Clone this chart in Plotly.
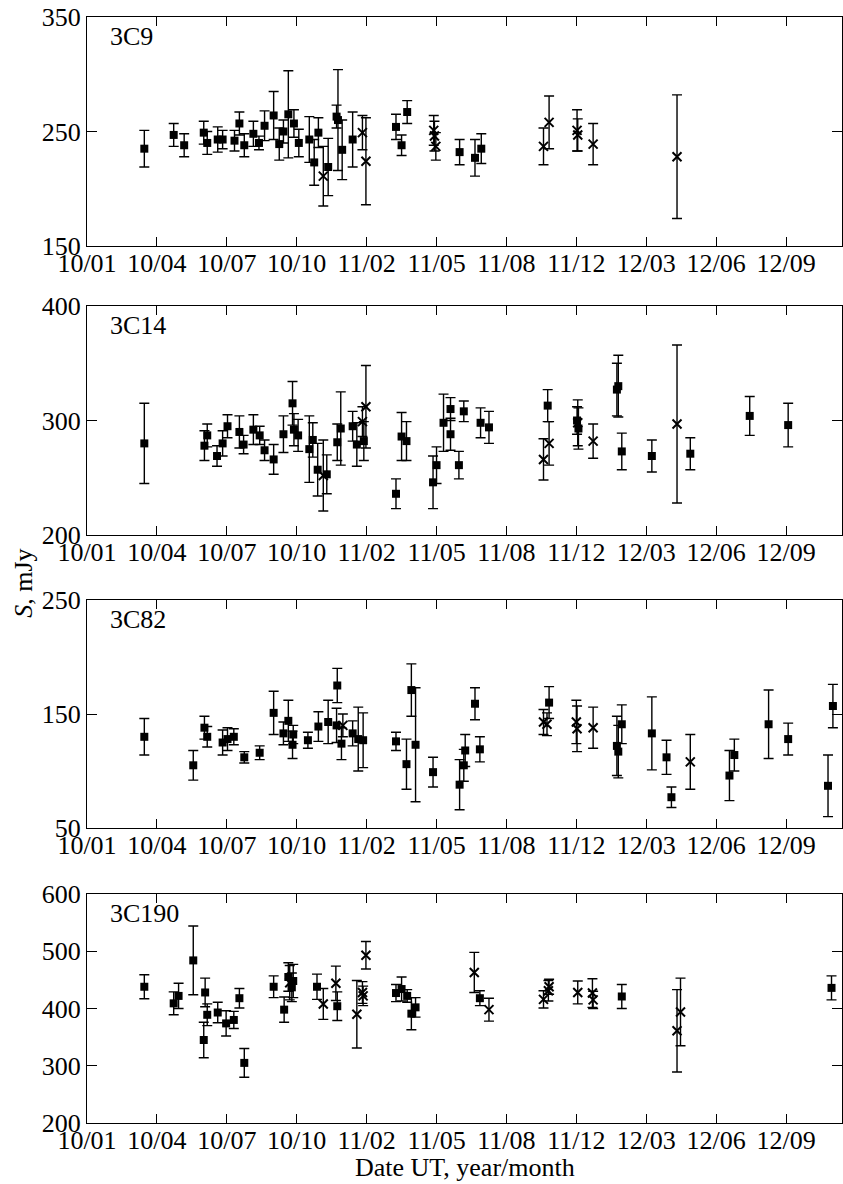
import plotly.graph_objects as go

# x values: days since 2010-01-01 ; ticks every 100 days
tick_days = [0, 100, 200, 300, 400, 500, 600, 700, 800, 900, 1000]
tick_labels = ["10/01", "10/04", "10/07", "10/10", "11/02", "11/05",
               "11/08", "11/12", "12/03", "12/06", "12/09"]

# ---- 3C9 ----
c9_sq_day = [82, 124, 139, 167, 172, 187, 194, 211, 218, 225, 238, 246, 254, 267, 275, 281,
             288, 296, 303, 318, 325, 331, 345, 357, 359, 365, 380, 442, 450, 458, 533, 555, 564]
c9_sq_val = [235, 247, 238, 249, 240, 243, 243, 242, 257, 238, 248, 240, 255, 264, 239, 250,
             265, 257, 240, 243, 223, 249, 219, 263, 260, 234, 243, 254, 238, 267, 232, 227, 235]
c9_sq_err = [16, 10, 10, 10, 10, 11, 8, 9, 10, 10, 11, 6, 13, 21, 14, 10,
             38, 12, 12, 20, 20, 13, 25, 10, 44, 26, 24, 11, 9, 10, 11, 16, 13]
c9_x_day = [338, 394, 399, 496, 497, 499, 653, 661, 701, 702, 724, 844]
c9_x_val = [211, 249, 224, 251, 246, 237, 237, 258, 251, 247, 239, 228]
c9_x_err = [26, 15, 38, 13, 13, 12, 16, 23, 18, 14, 18, 54]

# ---- 3C14 ----
c14_sq_day = [82, 168, 172, 186, 194, 201, 218, 224, 238, 247, 254, 267, 281, 294, 296, 302,
              318, 323, 330, 343, 358, 363, 380, 386, 396, 442, 450, 457, 495, 500, 510, 520,
              520, 532, 539, 563, 575, 659, 701, 703, 758, 760, 765, 808, 863, 948, 1003]
c14_sq_val = [280, 278, 287, 269, 280, 295, 290, 279, 292, 287, 274, 266, 288, 315, 292, 287,
              275, 283, 257, 253, 281, 293, 295, 279, 282, 236, 286, 282, 246, 261, 298, 310,
              288, 261, 308, 298, 294, 313, 300, 293, 327, 330, 273, 269, 271, 304, 296]
c14_sq_err = [35, 13, 10, 9, 11, 10, 14, 8, 13, 8, 9, 13, 16, 19, 14, 14,
              29, 15, 23, 17, 16, 32, 13, 19, 17, 13, 21, 17, 23, 16, 25, 10,
              14, 12, 9, 13, 14, 14, 12, 18, 23, 27, 16, 14, 14, 17, 19]
c14_x_day = [338, 394, 399, 653, 661, 702, 724, 844]
c14_x_val = [252, 299, 312, 266, 280, 298, 282, 297]
c14_x_err = [31, 13, 36, 18, 19, 20, 15, 69]

# ---- 3C82 ----
c82_sq_day = [82, 152, 168, 172, 194, 201, 210, 225, 247, 267, 281, 288, 295, 294, 316, 331,
              345, 358, 357, 364, 380, 388, 395, 442, 457, 464, 470, 495, 533, 539, 541, 555,
              562, 661, 758, 760, 765, 808, 829, 836, 919, 926, 975, 1003, 1060, 1067]
c82_sq_val = [130, 105, 138, 130, 125, 128, 130, 112, 116, 151, 133, 144, 132, 123, 127, 139,
              143, 175, 140, 124, 133, 128, 127, 126, 106, 171, 123, 99, 88, 105, 118, 159,
              119, 160, 122, 117, 141, 133, 112, 77, 96, 114, 141, 128, 87, 157]
c82_sq_err = [16, 13, 10, 9, 11, 10, 7, 5, 6, 19, 10, 18, 8, 12, 7, 13,
              19, 15, 15, 14, 11, 28, 24, 8, 22, 23, 50, 13, 22, 14, 14, 14,
              11, 14, 26, 23, 17, 32, 15, 9, 22, 14, 30, 14, 27, 19]
c82_x_day = [366, 653, 658, 700, 701, 724, 863]
c82_x_val = [140, 143, 141, 143, 137, 138, 108]
c82_x_err = [10, 11, 10, 19, 20, 18, 24]

# ---- 3C190 ----
c190_sq_day = [82, 124, 131, 152, 169, 167, 172, 187, 199, 210, 218, 225, 267, 282, 288, 295,
               293, 329, 358, 442, 450, 458, 464, 470, 562, 765, 1065]
c190_sq_val = [438, 409, 422, 484, 428, 345, 389, 393, 374, 380, 418, 305, 438, 398, 455, 448,
               437, 438, 404, 427, 434, 422, 391, 402, 418, 421, 436]
c190_sq_err = [21, 20, 22, 60, 25, 31, 19, 18, 22, 15, 17, 25, 19, 22, 25, 29,
               25, 22, 25, 15, 21, 11, 28, 17, 13, 21, 21]
c190_x_day = [290, 338, 356, 386, 394, 395, 399, 554, 575, 653, 660, 661, 702, 723, 724, 844, 849]
c190_x_val = [445, 408, 444, 390, 428, 422, 493, 463, 398, 416, 431, 438, 428, 427, 415, 361, 394]
c190_x_err = [30, 27, 30, 59, 19, 17, 24, 35, 20, 15, 18, 13, 20, 25, 15, 72, 59]

panels = [
    ("3C9", c9_sq_day, c9_sq_val, c9_sq_err, c9_x_day, c9_x_val, c9_x_err, [150, 350], [150, 250, 350]),
    ("3C14", c14_sq_day, c14_sq_val, c14_sq_err, c14_x_day, c14_x_val, c14_x_err, [200, 400], [200, 300, 400]),
    ("3C82", c82_sq_day, c82_sq_val, c82_sq_err, c82_x_day, c82_x_val, c82_x_err, [50, 250], [50, 150, 250]),
    ("3C190", c190_sq_day, c190_sq_val, c190_sq_err, c190_x_day, c190_x_val, c190_x_err, [200, 600],
     [200, 300, 400, 500, 600]),
]

H = 1184.0
# pixel top/bottom of each panel
px_bounds = [(17, 246), (306, 535), (600, 828), (894, 1123)]

FONT = "Liberation Serif, Times New Roman, serif"
FS = 26
fig = go.Figure()
layout = dict(
    width=843, height=1184,
    margin=dict(l=87, r=1, t=0, b=0, autoexpand=False),
    paper_bgcolor="white", plot_bgcolor="white",
    showlegend=False,
    font=dict(family=FONT, size=FS, color="black"),
)

annotations = []
for i, (name, sd, sv, se, xd, xv, xe, yr, yt) in enumerate(panels):
    k = "" if i == 0 else str(i + 1)
    xa, ya = "x" + k, "y" + k
    err_style = dict(type="data", visible=True, color="black", thickness=1.4, width=5)
    fig.add_trace(go.Scatter(
        x=sd, y=sv, mode="markers", xaxis=xa, yaxis=ya, cliponaxis=True,
        marker=dict(symbol="square", size=8, color="black"),
        error_y=dict(array=se, **err_style)))
    fig.add_trace(go.Scatter(
        x=xd, y=xv, mode="markers", xaxis=xa, yaxis=ya, cliponaxis=True,
        marker=dict(symbol="x-thin", size=9, color="black",
                    line=dict(color="black", width=2)),
        error_y=dict(array=xe, **err_style)))
    top, bot = px_bounds[i]
    dom = [1 - bot / H, 1 - top / H]
    layout["xaxis" + k] = dict(
        domain=[0, 1], range=[0, 1080], anchor=ya, automargin=False,
        tickmode="array", tickvals=tick_days, ticktext=tick_labels,
        ticks="inside", ticklen=9, tickwidth=1.2, tickcolor="black",
        ticklabelstandoff=-6,
        showline=True, linecolor="black", linewidth=1.3, mirror="ticks",
        showgrid=False, zeroline=False,
        tickfont=dict(family=FONT, size=FS, color="black"),
    )
    layout["yaxis" + k] = dict(
        domain=dom, range=yr, anchor=xa, automargin=False,
        tickmode="array", tickvals=yt,
        ticks="inside", ticklen=10, tickwidth=1.2, tickcolor="black",
        showline=True, linecolor="black", linewidth=1.3, mirror="ticks",
        showgrid=False, zeroline=False,
        tickfont=dict(family=FONT, size=FS, color="black"),
    )
    annotations.append(dict(
        text=name, xref=xa + " domain", yref=ya + " domain",
        x=0.028, y=0.985, xanchor="left", yanchor="top", showarrow=False,
        font=dict(family=FONT, size=FS, color="black")))

annotations.append(dict(
    text="Date UT, year/month", xref="paper", yref="paper",
    x=0.5, y=0.0, xanchor="center", yanchor="bottom", showarrow=False,
    font=dict(family=FONT, size=FS, color="black")))
annotations.append(dict(
    text="<i>S</i>, mJy", xref="paper", yref="paper",
    x=-0.085, xanchor="center", y=1 - 583 / H, yanchor="middle", textangle=-90,
    showarrow=False, font=dict(family=FONT, size=FS, color="black")))

layout["annotations"] = annotations
fig.update_layout(**layout)
fig.write_html("out.html", config={"displayModeBar": False},
               post_script="document.body.style.margin='0px';document.body.style.overflow='hidden';")
